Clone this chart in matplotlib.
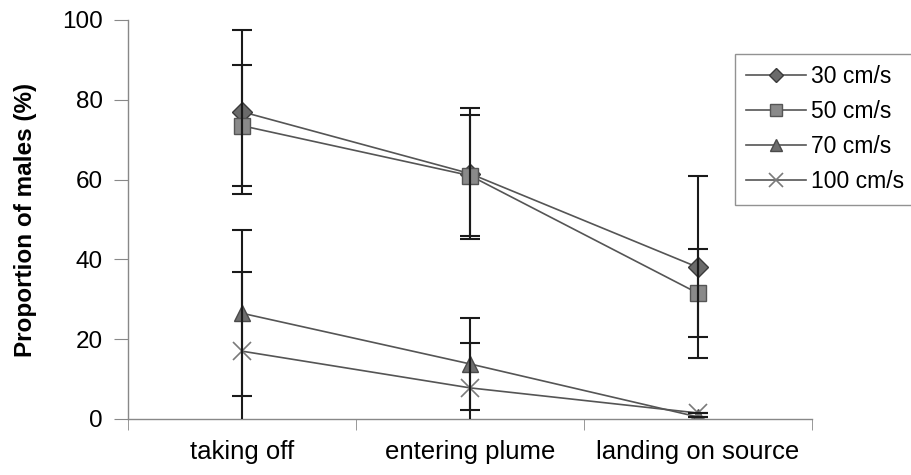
import matplotlib
matplotlib.use('Agg')
from matplotlib import pyplot as plt
from matplotlib.lines import Line2D

plt.rcParams['font.family'] = ['Liberation Sans', 'DejaVu Sans']

categories = ['taking off', 'entering plume', 'landing on source']
speeds     = ['30 cm/s', '50 cm/s', '70 cm/s', '100 cm/s']

mean30  = [77.0, 61.5, 38.0]
mean50  = [73.5, 61.0, 31.5]
mean70  = [26.5, 13.8, 0.5]
mean100 = [17.0,  7.8, 1.5]

err30   = [20.5, 16.5, 22.8]
err50   = [15.2, 15.2, 11.0]
err70   = [20.8, 11.5,  0.0]
err100  = [19.8, 11.2,  0.0]

yticks  = [0, 20, 40, 60, 80, 100]

series = [
  (mean30,  err30,  {'marker': 'D', 'markersize': 10, 'mfc': '#6a6a6a', 'mec': '#3a3a3a'}),
  (mean50,  err50,  {'marker': 's', 'markersize': 11, 'mfc': '#8a8a8a', 'mec': '#555555'}),
  (mean70,  err70,  {'marker': '^', 'markersize': 12, 'mfc': '#6e6e6e', 'mec': '#4a4a4a'}),
  (mean100, err100, {'marker': 'x', 'markersize': 13, 'mfc': 'none',    'mec': '#7a7a7a',
                     'markeredgewidth': 1.2}),
]

fig = plt.figure(figsize=(9.12, 4.75), dpi=100)
ax  = fig.add_axes([0.1404, 0.1179, 0.75, 0.84])

xx = list(range(len(categories)))
for mean, err, fmt in series:
  ax.plot(xx, mean, color='#555555', linewidth=1.2, zorder=2, **fmt)
  ax.errorbar(xx, mean, yerr=err, fmt='none', ecolor='#1a1a1a',
              elinewidth=1.5, capsize=7, capthick=1.5, zorder=3)

ax.set_xlim(-0.5, 2.5)
ax.set_ylim(0, 100)
ax.set_yticks(yticks)
ax.set_xticks(xx)
ax.set_xticklabels(categories, fontsize=18.5)
ax.set_xticks([-0.5, 0.5, 1.5, 2.5], minor=True)
ax.tick_params(axis='x', which='major', length=0, pad=15)
ax.tick_params(axis='x', which='minor', length=8, direction='out', color='#888888')
ax.tick_params(axis='y', length=10, direction='out', color='#888888',
               labelsize=17.5, pad=8)

for side in ('top', 'right'):
  ax.spines[side].set_visible(False)
for side in ('left', 'bottom'):
  ax.spines[side].set_color('#888888')
  ax.spines[side].set_linewidth(1.0)

ax.set_ylabel('Proportion of males (%)', fontsize=17.5, fontweight='bold', labelpad=18)

handles = [
  Line2D([], [], color='#555555', linewidth=1.2, **fmt) for _, _, fmt in series
]
leg = fig.legend(handles, speeds, loc='upper left',
                 bbox_to_anchor=(735/912, 1 - 54/475),
                 fontsize=16.5, frameon=True, fancybox=False, markerscale=0.75,
                 handlelength=2.6, handletextpad=0.2, borderpad=0.5,
                 labelspacing=0.52, borderaxespad=0)
leg.get_frame().set_edgecolor('#777777')
leg.get_frame().set_linewidth(1.0)

fig.savefig('out.png', dpi=100)
